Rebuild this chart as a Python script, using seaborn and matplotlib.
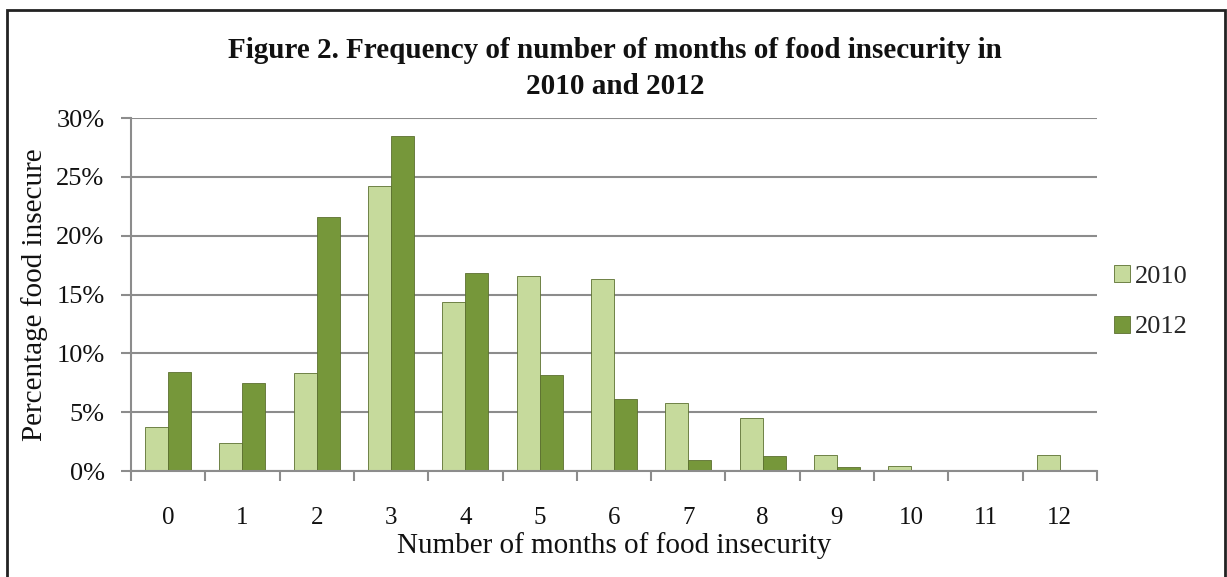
import matplotlib
matplotlib.use("Agg")
import matplotlib.pyplot as plt
import seaborn as sns
import pandas as pd
from matplotlib.patches import Rectangle
from matplotlib.ticker import FixedLocator, PercentFormatter

months = ["0", "1", "2", "3", "4", "5", "6", "7", "8", "9", "10", "11", "12"]
pct_2010 = [3.7, 2.4, 8.3, 24.2, 14.4, 16.6, 16.3, 5.8, 4.5, 1.4, 0.4, 0.0, 1.4]
pct_2012 = [8.4, 7.5, 21.6, 28.5, 16.8, 8.2, 6.1, 0.9, 1.3, 0.3, 0.0, 0.0, 0.0]
years = ["2010", "2012"]
colors = {"2010": "#c6da9c", "2012": "#76973a"}
yticks = [0, 5, 10, 15, 20, 25, 30]

df = pd.DataFrame({
    "month": months * 2,
    "pct": pct_2010 + pct_2012,
    "year": [years[0]] * len(months) + [years[1]] * len(months),
})

sns.set_theme(style="white")
plt.rcParams["font.family"] = ["Liberation Serif", "DejaVu Serif"]

fig = plt.figure(figsize=(12.27, 5.77), dpi=100)
W, H = 1227, 577
ax = fig.add_axes([131 / W, 1 - 471 / H, (1097 - 131) / W, (471 - 118) / H])

sns.barplot(data=df, x="month", y="pct", hue="year", order=months,
            hue_order=years, palette=colors, saturation=1, width=0.62, gap=0.0,
            edgecolor="#5c7030", linewidth=0.6, ax=ax, legend=True)

ax.set_ylim(0, 30)
ax.set_xlim(-0.5, len(months) - 0.5)
ax.set_yticks(yticks)
ax.yaxis.set_major_formatter(PercentFormatter(decimals=0))
ax.yaxis.grid(True, color="#8c8c8c", linewidth=1.5)
ax.set_axisbelow(True)
for s in ["top", "right"]:
    ax.spines[s].set_visible(False)
for s in ["left", "bottom"]:
    ax.spines[s].set_color("#8c8c8c")
    ax.spines[s].set_linewidth(1.5)

ax.tick_params(axis="x", which="major", length=0, pad=26, labelsize=18, labelcolor="#111111")
ax.xaxis.set_minor_locator(FixedLocator([i - 0.5 for i in range(len(months) + 1)]))
ax.tick_params(axis="x", which="minor", bottom=True, length=7, width=1.5, color="#8c8c8c", direction="out")
ax.tick_params(axis="y", left=True, length=7, width=1.5, color="#8c8c8c", direction="out",
               labelsize=19, labelcolor="#111111", pad=12)

ax.set_xlabel("Number of months of food insecurity", fontsize=21, color="#111111", labelpad=2)
ax.set_ylabel("Percentage food insecure", fontsize=21, color="#111111", labelpad=6)

fig.text(615 / W, 1 - 51 / H, "Figure 2. Frequency of number of months of food insecurity in",
         ha="center", va="center", fontsize=21, fontweight="bold", color="#111111")
fig.text(615 / W, 1 - 86 / H, "2010 and 2012",
         ha="center", va="center", fontsize=21, fontweight="bold", color="#111111")

leg = ax.legend(loc="center left", bbox_to_anchor=(0.993, 0.479), frameon=False,
                fontsize=19, handlelength=0.6, handleheight=0.6, handletextpad=0.2,
                labelspacing=1.05)

fig.patches.append(Rectangle((7 / W, -0.05), (1225 - 7) / W, 1.05 - 10 / H,
                             transform=fig.transFigure, fill=False,
                             edgecolor="#222222", linewidth=2))

fig.savefig("out.png", dpi=100, facecolor="white")
